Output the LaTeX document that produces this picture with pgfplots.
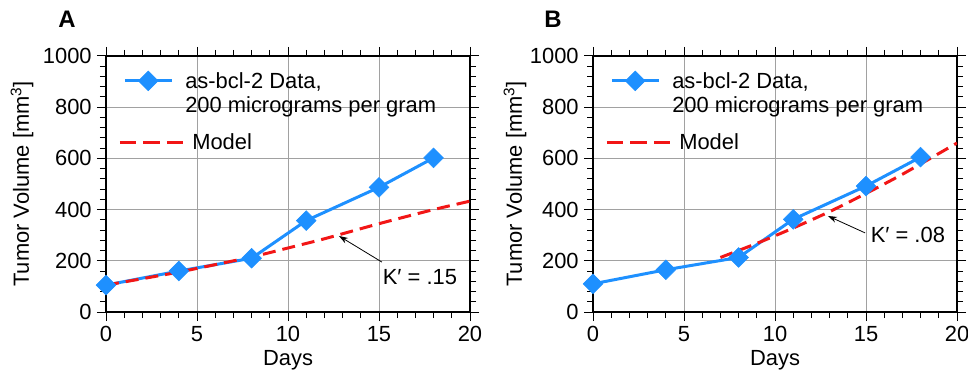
\documentclass[border=0pt]{standalone}
\usepackage{fontspec}
\setmainfont{Liberation Sans}
\usepackage{pgfplots}
\pgfplotsset{compat=1.18}
\usetikzlibrary{arrows.meta}
\definecolor{dblue}{RGB}{30,144,255}
\definecolor{mred}{RGB}{242,22,22}
\newcommand\fs{\fontsize{22}{24}\selectfont}
\pgfplotstableread{
x y
0 105
4 160
8 210
11 357
15 487
18 602
}\dataA
\pgfplotstableread{
x y
0 110
4 165
8 213
11 362
15 492
18 605
}\dataB
\pgfplotstableread{
x y
0 105
4 156
8 215
10 250
12 286
15 345
18 400
20 433
}\modelA
\pgfplotstableread{
x y
7 213
9 268
11 328
13 392
15 463
17 538
20 660
}\modelB
\pgfplotsset{
  myaxis/.style={
    width=364bp, height=256bp, scale only axis,
    xmin=0, xmax=20, ymin=0, ymax=1000,
    xtick={0,5,10,15,20}, ytick={0,200,400,600,800,1000},
    minor x tick num=4, minor y tick num=4,
    tick align=outside, major tick length=9bp, minor tick length=6bp,
    every axis/.append style={line width=2bp},
    tick style={black, line width=1bp},
    every tick/.style={black, line width=1bp},
    axis line style={black, line width=2bp},
    grid=major, major grid style={color=black!37, line width=0.9bp},
    tick label style={font=\fs},
    xticklabel style={yshift=-3bp, inner sep=1bp},
    yticklabel style={xshift=-1bp},
    label style={font=\fs},
    /pgf/number format/assume math mode=true,
    /pgf/number format/1000 sep={},
    xlabel={Days},
    xlabel style={at={(axis description cs:0.5,-0.19)}, anchor=center, inner sep=0pt},
    ylabel={Tumor Volume [mm\textsuperscript{3}]},
    legend style={at={(0.031,0.95)}, anchor=north west, draw=none, fill=none,
      inner sep=0pt, row sep=40bp, font=\fs,
      /tikz/every odd column/.append style={column sep=5bp}},
    legend cell align=left,
  },
  dataplot/.style={dblue, line width=3bp, mark=square*, mark size=7bp,
    mark options={rotate=45, solid, fill=dblue, draw=dblue, line width=0.5bp},
    legend image code/.code={\draw[##1,mark repeat=2,mark phase=2] plot coordinates {(5bp,0bp)(28.5bp,0bp)(52bp,0bp)};}},
  modelplot/.style={mred, line width=3bp, dash pattern=on 13bp off 7bp, smooth, tension=0.4,
    legend image code/.code={\draw[##1, dash pattern=on 16.5bp off 7bp] (0bp,0bp) -- (64bp,0bp);}},
}
\begin{document}
\begin{tikzpicture}
\path[use as bounding box] (0,0) rectangle (968bp,375bp);
\begin{axis}[myaxis, at={(106bp,63bp)}, anchor=south west,
  ylabel style={at={(axis description cs:-0.2308,0.5)}, anchor=center}]
\addplot[dataplot] table[x=x,y=y] {\dataA};
\addlegendentry{\begin{tabular}[t]{@{}l@{}}\hspace*{-7bp}as-bcl-2 Data,\\\hspace*{-7bp}200 micrograms per gram\end{tabular}}
\addplot[modelplot] table[x=x,y=y] {\modelA};
\addlegendentry{Model}
\draw[-{Stealth[length=9bp,width=6bp]}, line width=0.8bp] (axis cs:15.16,195) -- (axis cs:12.8,297);
\node[font=\fs] at (axis cs:17.25,137) {K′ = .15};
\end{axis}
\begin{axis}[myaxis, at={(593bp,63bp)}, anchor=south west,
  ylabel style={at={(axis description cs:-0.214,0.5)}, anchor=center}]
\addplot[dataplot] table[x=x,y=y] {\dataB};
\addlegendentry{\begin{tabular}[t]{@{}l@{}}\hspace*{-7bp}as-bcl-2 Data,\\\hspace*{-7bp}200 micrograms per gram\end{tabular}}
\addplot[modelplot] table[x=x,y=y] {\modelB};
\addlegendentry{Model}
\draw[-{Stealth[length=9bp,width=6bp]}, line width=0.8bp] (axis cs:14.95,309) -- (axis cs:12.91,375);
\node[font=\fs] at (axis cs:17.3,301) {K′ = .08};
\end{axis}
\node[font=\fontsize{24}{26}\selectfont\bfseries] at (67bp,356bp) {A};
\node[font=\fontsize{24}{26}\selectfont\bfseries] at (553bp,356bp) {B};
\end{tikzpicture}
\end{document}
